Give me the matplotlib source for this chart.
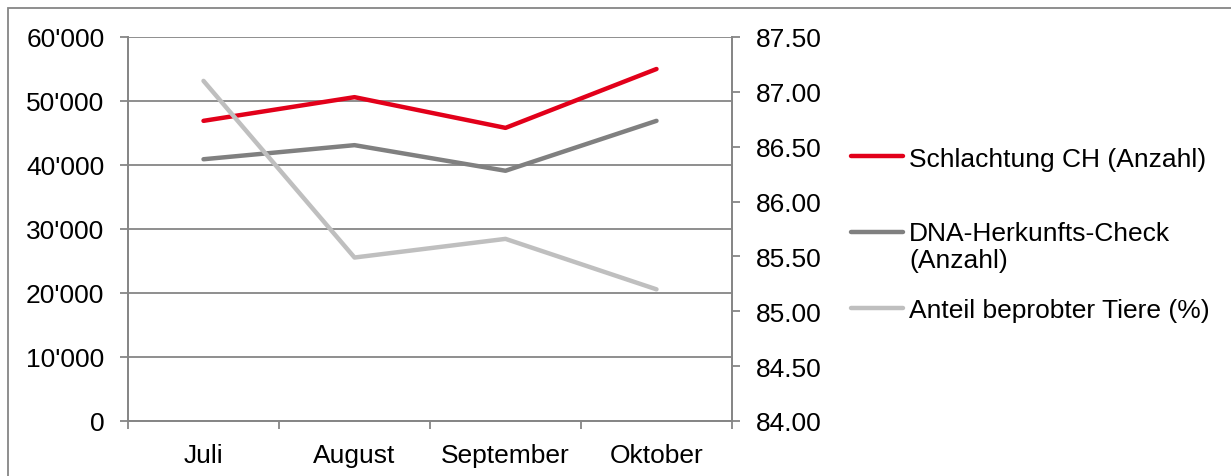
import matplotlib.pyplot as plt
from matplotlib.lines import Line2D
from matplotlib.patches import Rectangle
from matplotlib.ticker import FuncFormatter

plt.rcParams['font.family'] = ['Liberation Sans', 'DejaVu Sans']

# Daten
months = ['Juli', 'August', 'September', 'Oktober']
schlachtung = [46900, 50600, 45800, 55000]
dna_check = [40900, 43100, 39100, 46900]
anteil = [87.10, 85.49, 85.66, 85.20]

labels = ['Schlachtung CH (Anzahl)', 'DNA-Herkunfts-Check\n(Anzahl)', 'Anteil beprobter Tiere (%)']
colors = ['#e2001a', '#808080', '#bfbfbf']
axis_col = '#868686'

fig = plt.figure(figsize=(12.31, 4.77), dpi=100)
ax = fig.add_axes([128 / 1231, 1 - 422 / 477, 604 / 1231, 384 / 477])
ax2 = ax.twinx()

x = range(len(months))
ax.plot(x, schlachtung, color=colors[0], lw=3.2, solid_capstyle='round')
ax.plot(x, dna_check, color=colors[1], lw=3.2, solid_capstyle='round')
ax2.plot(x, anteil, color=colors[2], lw=3.2, solid_capstyle='round')

# linke Achse
ax.set_ylim(0, 60000)
ax.set_yticks(range(0, 60001, 10000))
ax.yaxis.set_major_formatter(FuncFormatter(lambda v, p: f"{int(v):,}".replace(',', "'")))
ax.grid(axis='y', color=axis_col, lw=1.3)
ax.set_axisbelow(True)

# rechte Achse
ax2.set_ylim(84, 87.5)
ax2.set_yticks([84 + 0.5 * i for i in range(8)])
ax2.yaxis.set_major_formatter(FuncFormatter(lambda v, p: f"{v:.2f}"))

# x-Achse: Striche zwischen den Kategorien
ax.set_xlim(-0.5, 3.5)
ax.set_xticks([i - 0.5 for i in range(5)])
ax.set_xticklabels([])
ax.set_xticks(list(x), minor=True)
ax.set_xticklabels(months, minor=True)
ax.tick_params(axis='x', which='minor', length=0, pad=16, labelsize=19)
ax.tick_params(axis='x', which='major', length=6, width=1.3, color=axis_col)
ax.tick_params(axis='y', length=6, width=1.3, color=axis_col, pad=11, labelsize=19)
ax2.tick_params(axis='y', length=6, width=1.3, color=axis_col, pad=11, labelsize=19)

for a in (ax, ax2):
    for s in a.spines.values():
        s.set_color(axis_col)
        s.set_linewidth(1.3)
    a.spines['top'].set_visible(False)

# Legende
ys = [157, 233, 309]
for y, lab, c in zip(ys, labels, colors):
    fy = 1 - y / 477
    fig.add_artist(Line2D([851 / 1231, 903 / 1231], [fy, fy], color=c, lw=3.2,
                          solid_capstyle='round', transform=fig.transFigure))
    fig.text(909 / 1231, fy, lab, ha='left', va='center_baseline' if '\n' not in lab else 'top',
             fontsize=19, linespacing=1.2)
# zweizeiliger Eintrag: obere Zeile auf Höhe der Linie
fig.texts[1].set_y(1 - 233 / 477 + 0.024)

# Rahmen des Diagrammbereichs
fig.add_artist(Rectangle((8 / 1231, -0.1), 1.2, 1 - 9 / 477 + 0.1, transform=fig.transFigure,
                         fill=False, edgecolor=axis_col, lw=1.3, clip_on=False))

fig.savefig('out.png', dpi=100)
